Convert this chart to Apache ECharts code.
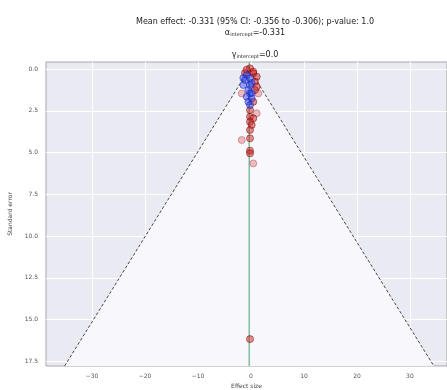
<!DOCTYPE html>
<html><head><meta charset="utf-8">
<script src="https://cdn.jsdelivr.net/npm/echarts@6/dist/echarts.min.js"></script>
<style>html,body{margin:0;padding:0;background:#fff}#c{width:447px;height:390px}</style>
</head><body><div id="c"></div>
<script>
// ---- data ----
const meanEffect = -0.331;
const seMax = 17.78;
const xTicks = [-30, -20, -10, 0, 10, 20, 30];
const yTicks = [0.0, 2.5, 5.0, 7.5, 10.0, 12.5, 15.0, 17.5];
// [effect size, standard error]
const redPoints = [
  [-0.19,-0.04],[0.43,0.26],[1.08,0.46],[0.75,0.76],[1.08,1.06],[0.43,1.96],
  [-0.19,2.46],[-0.19,2.86],[0.43,2.95],[-0.19,3.16],[0.13,3.35],[-0.19,3.65],
  [-0.19,4.15],[-0.19,4.89],[-0.19,5.05],[-0.19,16.17],[-1.13,0.24],[-0.81,0.04],
  [0.43,0.16],[0.75,1.26]
];
const redFaintPoints = [
  [-1.75,1.46],[1.38,1.46],[1.08,2.65],[-1.75,4.25],[0.43,5.65]
];
const bluePoints = [
  [-0.81,0.36],[-1.13,0.66],[-0.19,0.56],[-1.45,0.96],[-0.19,0.96],[-0.5,1.26],
  [-0.19,1.46],[-0.81,1.66],[0.13,1.75],[-0.5,1.96],[-0.19,2.16],[-1.45,0.54],
  [0.13,0.84],[0.13,1.44]
];
const funnelLeft = [[meanEffect - 1.96*seMax, seMax],[meanEffect,0]];
const funnelRight = [[meanEffect,0],[meanEffect + 1.96*seMax, seMax]];
const funnelPoly = [[meanEffect,0],[meanEffect - 1.96*seMax, seMax],[meanEffect + 1.96*seMax, seMax]];
const meanLine = [[meanEffect,-0.42],[meanEffect,seMax]];

const font = 'DejaVu Sans';
const chart = echarts.init(document.getElementById('c'), null, {renderer:'canvas'});
const richSub = {
  n:{fontFamily:font,fontSize:8,fontWeight:'normal',color:'#222',verticalAlign:'bottom'},
  s:{fontFamily:font,fontSize:5,fontWeight:'normal',color:'#222',verticalAlign:'bottom'}
};
chart.setOption({
  animation:false,
  backgroundColor:'#ffffff',
  title:[
    {text:'Mean effect: -0.331 (95% CI: -0.356 to -0.306); p-value: 1.0', left:250, top:13, textAlign:'center',
     textStyle:{fontFamily:font, fontSize:8, fontWeight:'normal', color:'#222'}},
    {text:'{n|α}{s|intercept}{n|=-0.331}', left:250, top:24, textAlign:'center',
     textStyle:{fontWeight:'normal', rich:richSub}},
    {text:'{n|γ}{s|intercept}{n|=0.0}', left:250, top:46, textAlign:'center',
     textStyle:{fontWeight:'normal', rich:richSub}}
  ],
  grid:{left:46, right:0, top:62, bottom:24, outerBoundsMode:'none', containLabel:false,
    show:true, backgroundColor:'#eaeaf2', borderColor:'#a8a8a8', borderWidth:1},
  xAxis:{type:'value', min:-38.7, max:37.0,
    name:'Effect size', nameLocation:'middle', nameGap:16,
    nameTextStyle:{fontFamily:font, fontSize:6, color:'#444'},
    axisLine:{show:false}, axisTick:{show:false, customValues:xTicks},
    splitLine:{show:true, lineStyle:{color:'#ffffff', width:1}},
    axisLabel:{customValues:xTicks, fontFamily:font, fontSize:6, color:'#555', margin:7,
      formatter:v => (v<0 ? '\u2212'+Math.abs(v) : String(v))}},
  yAxis:{type:'value', inverse:true, min:-0.42, max:seMax,
    name:'Standard error', nameLocation:'middle', nameGap:33,
    nameTextStyle:{fontFamily:font, fontSize:6, color:'#444'},
    axisLine:{show:false}, axisTick:{show:false, customValues:yTicks},
    splitLine:{show:true, lineStyle:{color:'#ffffff', width:1}},
    axisLabel:{customValues:yTicks, fontFamily:font, fontSize:6, color:'#555', margin:8,
      formatter:v => v.toFixed(1)}},
  series:[
    {type:'custom', z:1, silent:true, data:[0],
     renderItem:(params, api) => ({type:'polygon', shape:{points: funnelPoly.map(p => api.coord(p))},
        style:{fill:'#f8f8fc'}})},
    {type:'line', z:2, data:funnelLeft, symbol:'none', lineStyle:{color:'#333', width:0.9, type:[3,2]}},
    {type:'line', z:2, data:funnelRight, symbol:'none', lineStyle:{color:'#333', width:0.9, type:[3,2]}},
    {type:'line', z:3, data:meanLine, symbol:'none', lineStyle:{color:'#86bfa2', width:1.6}},
    {type:'scatter', z:4, data:redFaintPoints, symbolSize:7,
     itemStyle:{color:'rgba(205,60,60,0.4)', borderColor:'rgba(170,30,30,0.45)', borderWidth:1}},
    {type:'scatter', z:5, data:redPoints, symbolSize:7,
     itemStyle:{color:'rgba(200,30,30,0.6)', borderColor:'rgba(130,0,0,0.65)', borderWidth:1}},
    {type:'scatter', z:6, data:bluePoints, symbolSize:7,
     itemStyle:{color:'rgba(40,60,235,0.6)', borderColor:'rgba(20,30,170,0.6)', borderWidth:1}}
  ]
});
</script></body></html>
